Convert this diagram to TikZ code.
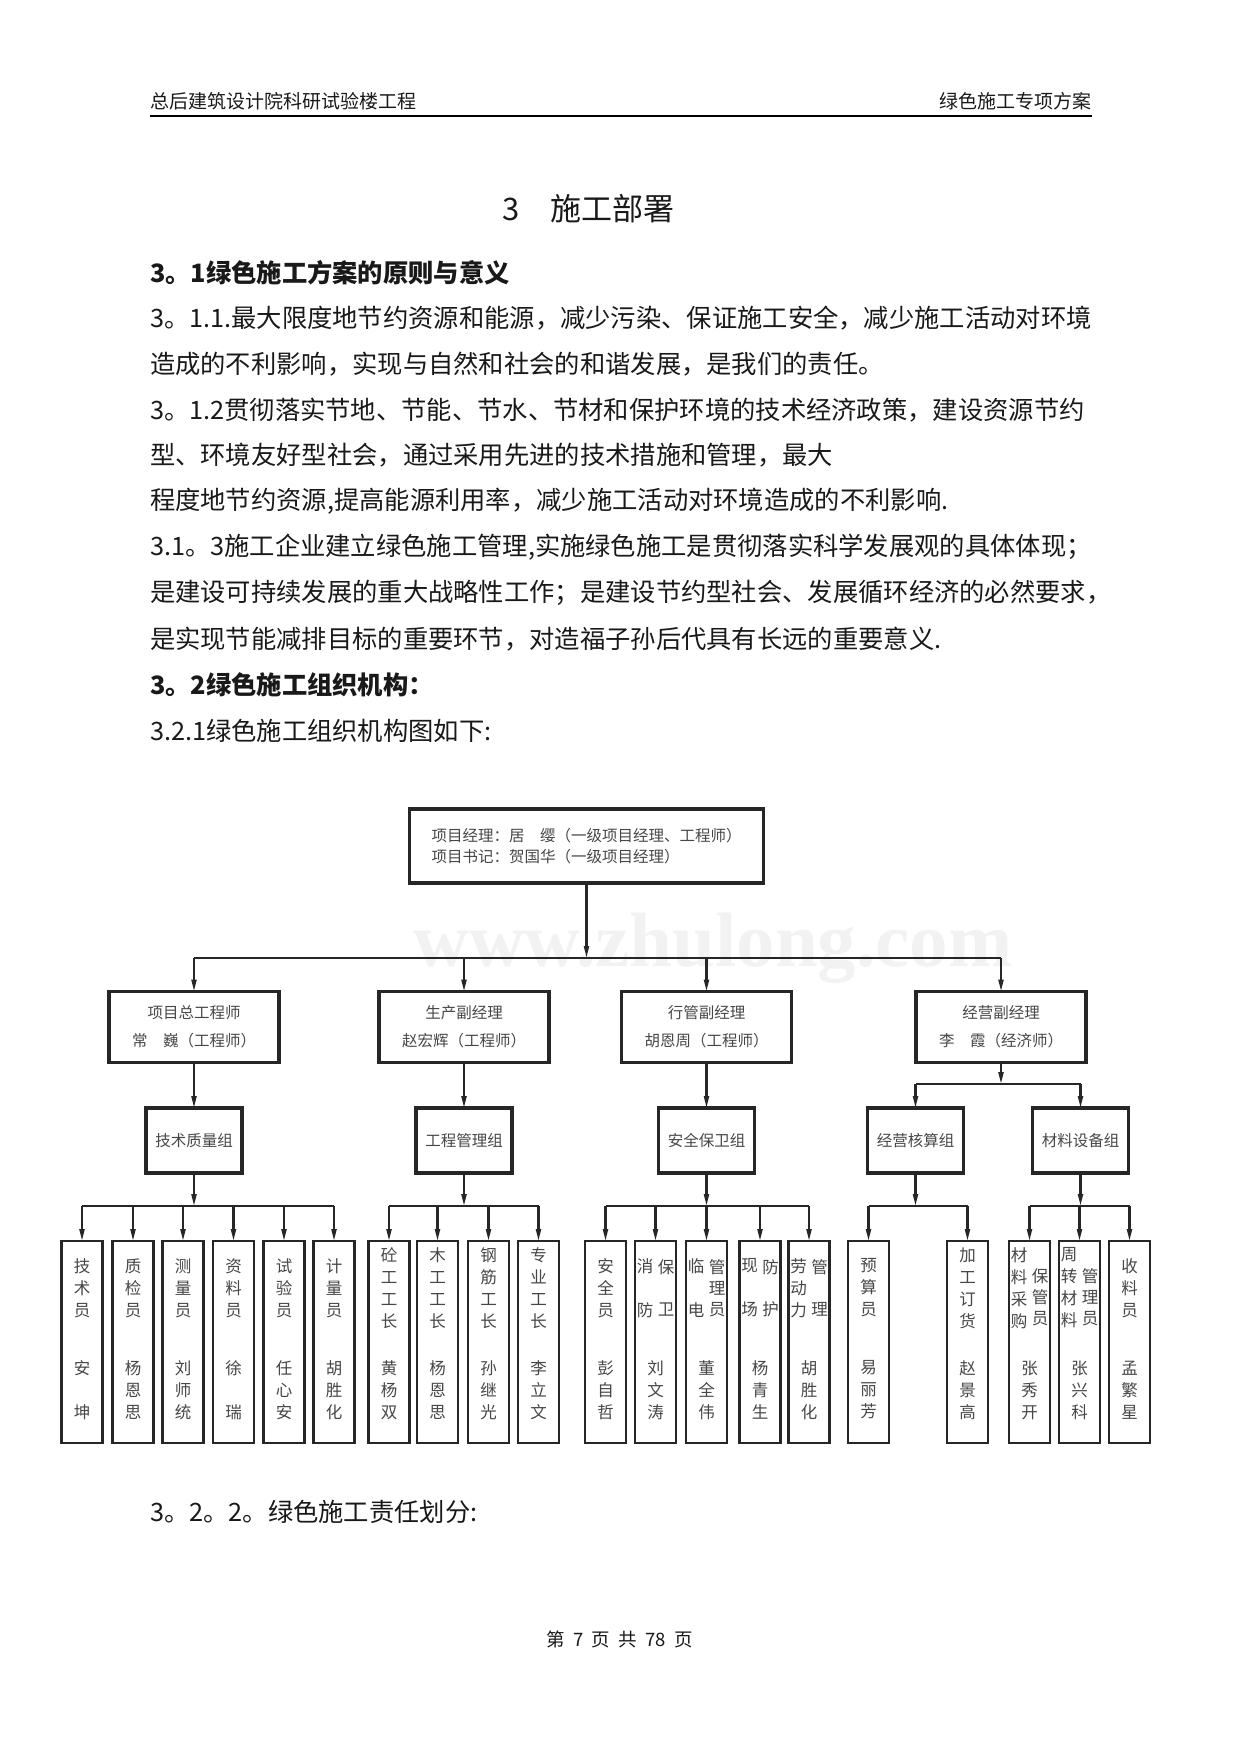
\documentclass[tikz,border=0pt]{standalone}
\usepackage{fontspec}
\setmainfont{Noto Sans CJK SC}
\newfontfamily\wmfont{Liberation Serif}
\usetikzlibrary{arrows.meta}
\definecolor{ink}{gray}{0.1}
\definecolor{chart}{gray}{0.28}
\definecolor{frame}{gray}{0.15}
\tikzset{
  every node/.style={inner sep=0pt, outer sep=0pt},
  body/.style={anchor=west, font=\fontsize{25.3}{30}\selectfont, text=ink},
  headbold/.style={body, font=\fontsize{25.3}{30}\selectfont\bfseries},
  topbox/.style={draw=frame, line width=3.5pt, minimum width=354pt, minimum height=74pt,
    align=left, font=\fontsize{15.5}{21}\selectfont, text=chart},
  ltwobox/.style={draw=frame, line width=3.5pt, minimum width=170pt, minimum height=71pt,
    align=center, font=\fontsize{15.5}{28}\selectfont, text=chart},
  lthreebox/.style={draw=frame, line width=3.5pt, minimum width=96pt, minimum height=65pt,
    font=\fontsize{15.5}{20}\selectfont, text=chart},
  leafbox/.style={draw=frame, line width=2.5pt, minimum width=41pt, minimum height=202pt},
  vtext/.style={align=center, font=\fontsize{16.5}{22}\selectfont, text=chart},
  vtexttight/.style={align=center, font=\fontsize{16.5}{21}\selectfont, text=chart},
  conn/.style={draw=frame, line width=2.2pt},
  arr/.style={conn, -{Triangle[length=12pt,width=5pt]}},
}
\newcommand\orgleaf[4]{%
  \node[leafbox] (#1) at (#2,1342) {};
  \node[vtext] (#1t) at (#2,1288) {#3};
  \node[vtext] (#1n) at (#2,1390) {#4};
}
\newcommand\orgleafII[6]{%
  \node[leafbox] (#1) at (#2,1342) {};
  \node[vtext] (#1l) at (#2-10.5,1288) {#3};
  \node[vtexttight] (#1r) at (#2+10.5,#5) {#4};
  \node[vtext] (#1n) at (#2,1390) {#6};
}
\begin{document}
\begin{tikzpicture}[x=1pt,y=-1pt]
\useasboundingbox (0,0) rectangle (1241,1754);
\fill[white] (0,0) rectangle (1241,1754);

% header
\node[anchor=west, font=\fontsize{19}{22}\selectfont, text=ink] (hl) at (150,101) {总后建筑设计院科研试验楼工程};
\node[anchor=east, font=\fontsize{19}{22}\selectfont, text=ink] (hr) at (1091,101) {绿色施工专项方案};
\coordinate (hla) at (150,116);
\coordinate (hlb) at (1092,116);
\draw[line width=2.6pt, black] (hla) -- (hlb);

% title
\node[anchor=west, font=\fontsize{31}{36}\selectfont, text=ink] (t3) at (502,209) {3};
\node[anchor=west, font=\fontsize{31}{36}\selectfont, text=ink] (tt) at (550,209) {施工部署};

% body text
\node[headbold] (s31) at (150,273) {3。1绿色施工方案的原则与意义};
\node[body] (p1) at (150,318) {3。1.1.最大限度地节约资源和能源，减少污染、保证施工安全，减少施工活动对环境};
\node[body] (p2) at (150,364) {造成的不利影响，实现与自然和社会的和谐发展，是我们的责任。};
\node[body] (p3) at (150,410) {3。1.2贯彻落实节地、节能、节水、节材和保护环境的技术经济政策，建设资源节约};
\node[body] (p4) at (150,455) {型、环境友好型社会，通过采用先进的技术措施和管理，最大};
\node[body] (p5) at (150,501) {程度地节约资源,提高能源利用率，减少施工活动对环境造成的不利影响.};
\node[body] (p6) at (150,547) {3.1。3施工企业建立绿色施工管理,实施绿色施工是贯彻落实科学发展观的具体体现；};
\node[body] (p7) at (150,593) {是建设可持续发展的重大战略性工作；是建设节约型社会、发展循环经济的必然要求，};
\node[body] (p8) at (150,639) {是实现节能减排目标的重要环节，对造福子孙后代具有长远的重要意义.};
\node[headbold] (s32) at (150,685) {3。2绿色施工组织机构：};
\node[body] (p9) at (150,731) {3.2.1绿色施工组织机构图如下:};

% faint watermark
\node[font=\wmfont\bfseries\fontsize{77}{80}\selectfont, text=black!5] (wm) at (713,948) {www.zhulong.com};

% ---------------- org chart ----------------
\node[topbox] (pm) at (586.5,846) {项目经理：居　缨（一级项目经理、工程师）\\项目书记：贺国华（一级项目经理）};

\node[ltwobox] (A) at (194,1027) {项目总工程师\\常　巍（工程师）};
\node[ltwobox] (B) at (464,1027) {生产副经理\\赵宏辉（工程师）};
\node[ltwobox] (C) at (706.5,1027) {行管副经理\\胡恩周（工程师）};
\node[ltwobox] (D) at (1001,1027) {经营副经理\\李　霞（经济师）};

\node[lthreebox] (Ag) at (194,1140.5) {技术质量组};
\node[lthreebox] (Bg) at (464,1140.5) {工程管理组};
\node[lthreebox] (Cg) at (706.5,1140.5) {安全保卫组};
\node[lthreebox] (Dg1) at (915.5,1140.5) {经营核算组};
\node[lthreebox] (Dg2) at (1080.5,1140.5) {材料设备组};

% leaves group A
\orgleaf{a1}{82}{技\\术\\员}{安\\[22pt]坤}
\orgleaf{a2}{133}{质\\检\\员}{杨\\恩\\思}
\orgleaf{a3}{183}{测\\量\\员}{刘\\师\\统}
\orgleaf{a4}{233.5}{资\\料\\员}{徐\\[22pt]瑞}
\orgleaf{a5}{284}{试\\验\\员}{任\\心\\安}
\orgleaf{a6}{334}{计\\量\\员}{胡\\胜\\化}
% group B
\orgleaf{b1}{389}{砼\\工\\工\\长}{黄\\杨\\双}
\orgleaf{b2}{437.5}{木\\工\\工\\长}{杨\\恩\\思}
\orgleaf{b3}{488.5}{钢\\筋\\工\\长}{孙\\继\\光}
\orgleaf{b4}{538.5}{专\\业\\工\\长}{李\\立\\文}
% group C
\orgleaf{c1}{605.5}{安\\全\\员}{彭\\自\\哲}
\orgleafII{c2}{655.5}{消\\[22pt]防}{保\\[21pt]卫}{1288}{刘\\文\\涛}
\orgleafII{c3}{706.5}{临\\[22pt]电}{管\\理\\员}{1288}{董\\全\\伟}
\orgleafII{c4}{760}{现\\[22pt]场}{防\\[21pt]护}{1288}{杨\\青\\生}
\orgleafII{c5}{809}{劳\\动\\力}{管\\[21pt]理}{1288}{胡\\胜\\化}
% group D1
\orgleaf{d1}{868.5}{预\\算\\员}{易\\丽\\芳}
\orgleaf{d2}{967.5}{加\\工\\订\\货}{赵\\景\\高}
% group D2
\orgleafII{e1}{1029.5}{材\\料\\采\\购}{保\\管\\员}{1297}{张\\秀\\开}
\orgleafII{e2}{1079.5}{周\\转\\材\\料}{管\\理\\员}{1297}{张\\兴\\科}
\orgleaf{e3}{1129.5}{收\\料\\员}{孟\\繁\\星}

% connectors level 1 -> 2
\coordinate (bus1) at (586.5,958);
\draw[arr] (pm.south) -- (bus1);
\draw[conn] (A.north |- bus1) -- (D.north |- bus1);
\foreach \n in {A,B,C,D} \draw[arr] (\n.north |- bus1) -- (\n.north);

% level 2 -> 3
\draw[arr] (A.south) -- (Ag.north);
\draw[arr] (B.south) -- (Bg.north);
\draw[arr] (C.south) -- (Cg.north);
\coordinate (busD) at (1001,1084);
\draw[arr] (D.south) -- (busD);
\draw[conn] (Dg1.north |- busD) -- (Dg2.north |- busD);
\draw[arr] (Dg1.north |- busD) -- (Dg1.north);
\draw[arr] (Dg2.north |- busD) -- (Dg2.north);

% level 3 -> 4
\coordinate (yb) at (0,1206);
\draw[arr] (Ag.south) -- (Ag.south |- yb);
\draw[conn] (a1.north |- yb) -- (a6.north |- yb);
\foreach \n in {a1,a2,a3,a4,a5,a6} \draw[arr] (\n.north |- yb) -- (\n.north);

\draw[arr] (Bg.south) -- (Bg.south |- yb);
\draw[conn] (b1.north |- yb) -- (b4.north |- yb);
\foreach \n in {b1,b2,b3,b4} \draw[arr] (\n.north |- yb) -- (\n.north);

\draw[arr] (Cg.south) -- (Cg.south |- yb);
\draw[conn] (c1.north |- yb) -- (c5.north |- yb);
\foreach \n in {c1,c2,c3,c4,c5} \draw[arr] (\n.north |- yb) -- (\n.north);

\draw[arr] (Dg1.south) -- (Dg1.south |- yb);
\draw[conn] (d1.north |- yb) -- (d2.north |- yb);
\foreach \n in {d1,d2} \draw[arr] (\n.north |- yb) -- (\n.north);

\draw[arr] (Dg2.south) -- (Dg2.south |- yb);
\draw[conn] (e1.north |- yb) -- (e3.north |- yb);
\foreach \n in {e1,e2,e3} \draw[arr] (\n.north |- yb) -- (\n.north);

% after chart
\node[body] (p10) at (150,1512) {3。2。2。绿色施工责任划分:};
\node[font=\fontsize{18.5}{22}\selectfont, text=ink] (foot) at (619.5,1639) {第\hspace{0.45em}7\hspace{0.45em}页\hspace{0.45em}共\hspace{0.45em}78\hspace{0.45em}页};
\end{tikzpicture}
\end{document}
